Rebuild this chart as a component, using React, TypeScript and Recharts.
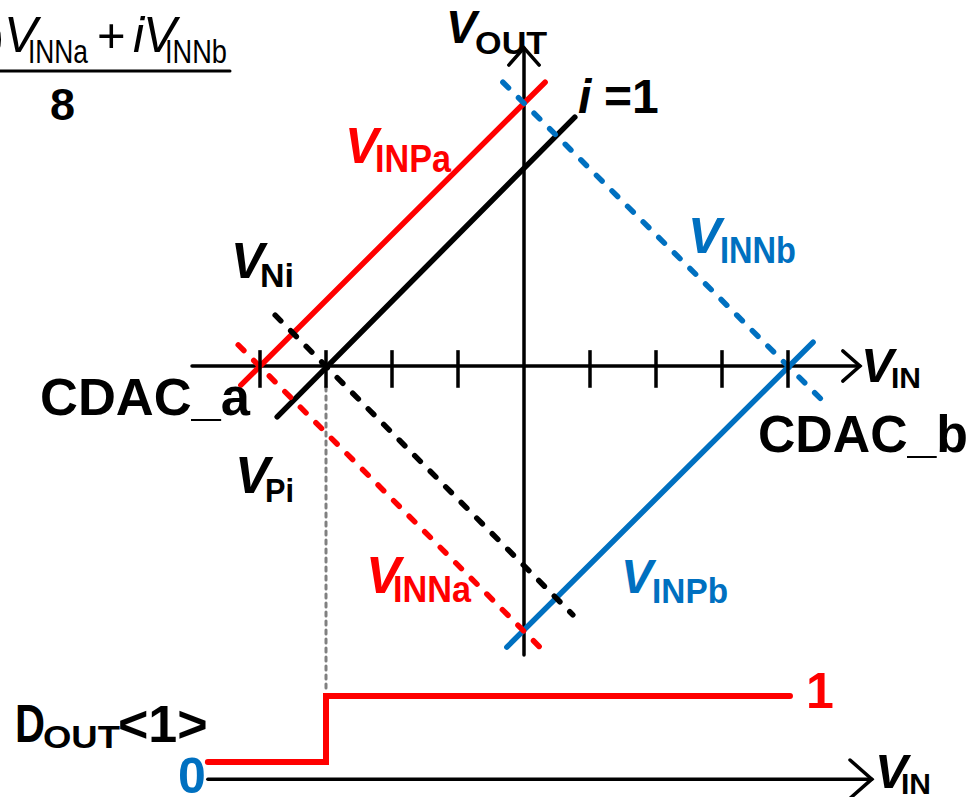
import React from 'react';
import { ComposedChart, Line, XAxis, YAxis, ReferenceDot, ReferenceLine } from 'recharts';

const RED = '#FF0000';
const BLUE = '#0070C0';
const BLACK = '#000000';
const GRAY = '#808080';
const FONT = "'Liberation Sans', Arial, Helvetica, sans-serif";

const W = 978;
const H = 797;
// one V_IN step (LSB) is 66 px; origin of the transfer plot
const UNIT = 66;
const X_DOMAIN: [number, number] = [-524 / UNIT, (W - 524) / UNIT];
const Y_DOMAIN: [number, number] = [-(H - 366) / UNIT, 366 / UNIT];

// tick marks along V_IN
const vinTicks = [-4, -3, -2, -1, 1, 2, 3, 4];

// comparator input lines: [V_IN] and [V_OUT] end points
const vinpaX = [-4.29, 0.32];
const vinpaY = [-0.29, 4.3];
const vpiX = [-3.74, 0.77];
const vpiY = [-0.77, 3.77];
const vinnaX = [-4.33, 0.24];
const vinnaY = [0.32, -4.26];
const vniX = [-3.77, 0.74];
const vniY = [0.77, -3.77];
const vinnbX = [-0.32, 4.52];
const vinnbY = [4.3, -0.52];
const vinpbX = [-0.26, 4.38];
const vinpbY = [-4.26, 0.36];

// axes
const vinAxisX = [-5.03, 5.09];
const vinAxisY = [0, 0];
const vinArrowX = [4.83, 5.09, 4.83];
const vinArrowY = [0.23, 0, -0.23];
const voutAxisX = [0, 0];
const voutAxisY = [-4.38, 4.82];
const voutArrowX = [-0.23, 0, 0.23];
const voutArrowY = [4.56, 4.82, 4.56];

// D_OUT<1> output vs V_IN
const doutAxisX = [-4.79, 5.27];
const doutAxisY = [-6.26, -6.26];
const doutArrowX = [4.94, 5.27, 4.94];
const doutArrowY = [-5.97, -6.26, -6.55];
const doutStepX = [-4.79, -3, -3, 4.03];
const doutStepY = [-6, -6, -5, -5];
const thresholdX = [-3, -3];
const thresholdY = [-0.32, -4.95];

// fraction bar of the V_Ni expression
const fracX = [-7.94, -4.455];
const fracY = [4.47, 4.47];

const pts = (xs: number[], ys: number[]) => xs.map((x, i) => ({ x, y: ys[i] }));

type Series = {
  id: string;
  xs: number[];
  ys: number[];
  color: string;
  width: number;
  dash?: string;
};

const series: Series[] = [
  { id: 'frac', xs: fracX, ys: fracY, color: BLACK, width: 3 },
  { id: 'vinAxis', xs: vinAxisX, ys: vinAxisY, color: BLACK, width: 3.5 },
  { id: 'vinArrow', xs: vinArrowX, ys: vinArrowY, color: BLACK, width: 3.5 },
  { id: 'voutAxis', xs: voutAxisX, ys: voutAxisY, color: BLACK, width: 3.5 },
  { id: 'voutArrow', xs: voutArrowX, ys: voutArrowY, color: BLACK, width: 3.5 },
  { id: 'threshold', xs: thresholdX, ys: thresholdY, color: GRAY, width: 3, dash: '4 5' },
  { id: 'doutAxis', xs: doutAxisX, ys: doutAxisY, color: BLACK, width: 3.5 },
  { id: 'doutArrow', xs: doutArrowX, ys: doutArrowY, color: BLACK, width: 3.5 },
  { id: 'doutStep', xs: doutStepX, ys: doutStepY, color: RED, width: 6 },
  { id: 'vinpa', xs: vinpaX, ys: vinpaY, color: RED, width: 5.5 },
  { id: 'vpi', xs: vpiX, ys: vpiY, color: BLACK, width: 5.5 },
  { id: 'vinpb', xs: vinpbX, ys: vinpbY, color: BLUE, width: 5.5 },
  { id: 'vinna', xs: vinnaX, ys: vinnaY, color: RED, width: 5.5, dash: '8 14' },
  { id: 'vni', xs: vniX, ys: vniY, color: BLACK, width: 5.5, dash: '8 14' },
  { id: 'vinnb', xs: vinnbX, ys: vinnbY, color: BLUE, width: 5.5, dash: '8 14' },
];

type Span = { t: string; italic?: boolean };
type Part = {
  text?: string;
  spans?: Span[];
  dx: number;
  dy: number;
  size: number;
  italic?: boolean;
  regular?: boolean;
  width?: number;
  anchor?: 'start' | 'end';
};
type LabelSpec = { id: string; x: number; y: number; color: string; parts: Part[] };

const V = (size: number, regular = false): Part => ({ text: 'V', dx: 0, dy: 0, size, italic: true, regular });

const labels: LabelSpec[] = [
  {
    id: 'numerator', x: -7.879, y: 4.758, color: BLACK,
    parts: [
      { spans: [{ t: '(8\u2212' }, { t: 'i', italic: true }, { t: ')' }], dx: 0, dy: 0, size: 49, regular: true, anchor: 'end' },
      V(50, true),
      { text: 'INNa', dx: 24, dy: 11, size: 33, regular: true, width: 60 },
      { text: '+', dx: 93, dy: 0, size: 49, regular: true },
      { text: 'i', dx: 129, dy: 0, size: 50, italic: true, regular: true },
      { text: 'V', dx: 139, dy: 0, size: 50, italic: true, regular: true },
      { text: 'INNb', dx: 161, dy: 11, size: 33, regular: true, width: 62 },
    ],
  },
  { id: 'eight', x: -7.182, y: 3.727, color: BLACK, parts: [{ text: '8', dx: 0, dy: 0, size: 45 }] },
  {
    id: 'vout', x: -1.18, y: 4.894, color: BLACK,
    parts: [V(46), { text: 'OUT', dx: 29, dy: 11, size: 32, width: 72 }],
  },
  {
    id: 'ione', x: 0.818, y: 3.833, color: BLACK,
    parts: [{ text: 'i', dx: 0, dy: 0, size: 48, italic: true }, { text: '=1', dx: 26, dy: 0, size: 48 }],
  },
  {
    id: 'vinpaLbl', x: -2.712, y: 3.076, color: RED,
    parts: [V(50), { text: 'INPa', dx: 30, dy: 9, size: 38, width: 76 }],
  },
  {
    id: 'vinnbLbl', x: 2.485, y: 1.712, color: BLUE,
    parts: [V(50), { text: 'INNb', dx: 32, dy: 10, size: 36, width: 76 }],
  },
  {
    id: 'vniLbl', x: -4.439, y: 1.333, color: BLACK,
    parts: [V(50), { text: 'Ni', dx: 29, dy: 9, size: 34, width: 34 }],
  },
  { id: 'cdacA', x: -7.333, y: -0.742, color: BLACK, parts: [{ text: 'CDAC_a', dx: 0, dy: 0, size: 51, width: 210 }] },
  { id: 'cdacB', x: 3.545, y: -1.303, color: BLACK, parts: [{ text: 'CDAC_b', dx: 0, dy: 0, size: 51, width: 210 }] },
  {
    id: 'vinLbl', x: 5.106, y: -0.242, color: BLACK,
    parts: [V(49), { text: 'IN', dx: 30, dy: 6, size: 30, width: 30 }],
  },
  {
    id: 'vpiLbl', x: -4.379, y: -1.924, color: BLACK,
    parts: [V(52), { text: 'Pi', dx: 30, dy: 9, size: 34, width: 29 }],
  },
  {
    id: 'vinnaLbl', x: -2.394, y: -3.439, color: RED,
    parts: [V(52), { text: 'INNa', dx: 27, dy: 9, size: 37, width: 78 }],
  },
  {
    id: 'vinpbLbl', x: 1.47, y: -3.439, color: BLUE,
    parts: [V(48), { text: 'INPb', dx: 31, dy: 10, size: 35, width: 76 }],
  },
  {
    id: 'doutLbl', x: -7.712, y: -5.697, color: BLACK,
    parts: [
      { text: 'D', dx: 0, dy: 0, size: 54, width: 30 },
      { text: 'OUT', dx: 28, dy: 6, size: 32, width: 77 },
      { text: '<1>', dx: 103, dy: 0, size: 52 },
    ],
  },
  { id: 'one', x: 4.273, y: -5.182, color: RED, parts: [{ text: '1', dx: 0, dy: 0, size: 50 }] },
  { id: 'zero', x: -5.242, y: -6.47, color: BLUE, parts: [{ text: '0', dx: 0, dy: 0, size: 50 }] },
  {
    id: 'vinLbl2', x: 5.318, y: -6.394, color: BLACK,
    parts: [V(49), { text: 'IN', dx: 26, dy: 6, size: 30, width: 30 }],
  },
];

function LabelShape({ cx, cy, spec }: { cx: number; cy: number; spec: LabelSpec }) {
  return (
    <g>
      {spec.parts.map((p, i) => (
        <text
          key={i}
          x={cx + p.dx}
          y={cy + p.dy}
          fill={spec.color}
          fontFamily={FONT}
          fontSize={p.size}
          fontWeight={p.regular ? 'normal' : 'bold'}
          fontStyle={p.italic ? 'italic' : 'normal'}
          textAnchor={p.anchor || 'start'}
          textLength={p.width}
          lengthAdjust={p.width ? 'spacingAndGlyphs' : undefined}
        >
          {p.spans
            ? p.spans.map((s, j) => (
                <tspan key={j} fontStyle={s.italic ? 'italic' : 'normal'}>
                  {s.t}
                </tspan>
              ))
            : p.text}
        </text>
      ))}
    </g>
  );
}

export default function App() {
  return (
    <div style={{ position: 'absolute', left: 0, top: 0, width: W, height: H, background: '#fff' }}>
      <ComposedChart width={W} height={H} margin={{ top: 0, right: 0, bottom: 0, left: 0 }}>
        <XAxis type="number" dataKey="x" domain={X_DOMAIN} allowDataOverflow hide />
        <YAxis type="number" dataKey="y" domain={Y_DOMAIN} allowDataOverflow hide />
        {series.map((s) => (
          <Line
            key={s.id}
            data={pts(s.xs, s.ys)}
            dataKey="y"
            type="linear"
            stroke={s.color}
            strokeWidth={s.width}
            strokeDasharray={s.dash}
            strokeLinecap="round"
            strokeLinejoin="miter"
            dot={false}
            activeDot={false}
            isAnimationActive={false}
          />
        ))}
        {vinTicks.map((t) => (
          <ReferenceLine
            key={`tick${t}`}
            segment={[{ x: t, y: 0.24 }, { x: t, y: -0.33 }]}
            stroke={BLACK}
            strokeWidth={3.5}
            ifOverflow="visible"
          />
        ))}
        {labels.map((l) => (
          <ReferenceDot
            key={l.id}
            x={l.x}
            y={l.y}
            r={0}
            ifOverflow="visible"
            shape={(p: any) => <LabelShape cx={p.cx} cy={p.cy} spec={l} />}
          />
        ))}
      </ComposedChart>
    </div>
  );
}
